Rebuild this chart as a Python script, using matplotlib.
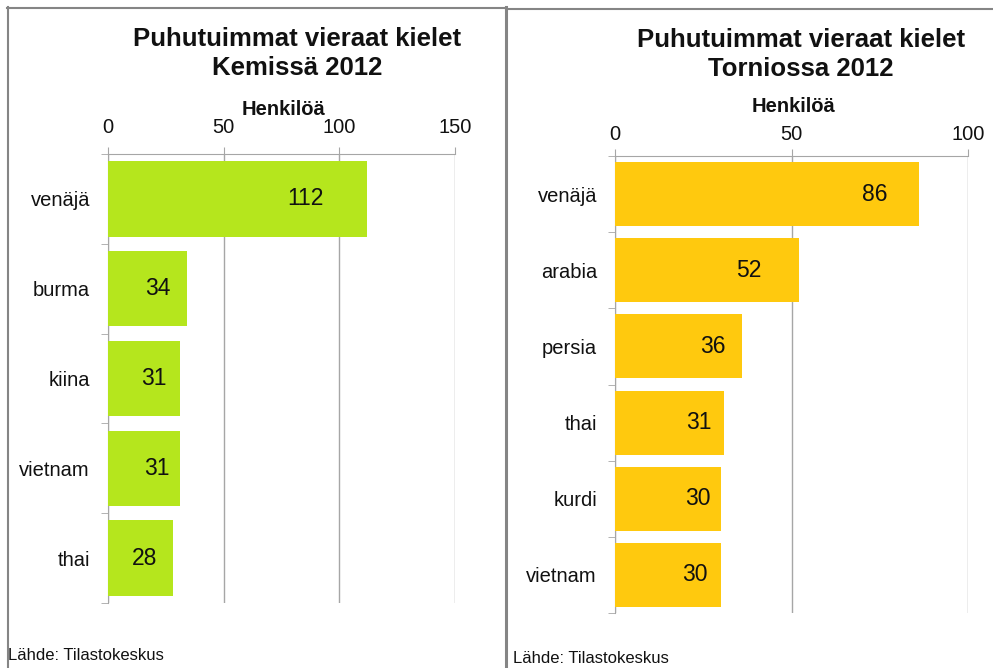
import matplotlib.pyplot as plt
from matplotlib.lines import Line2D

# data
kemi_languages = ['venäjä', 'burma', 'kiina', 'vietnam', 'thai']
kemi_counts = [112, 34, 31, 31, 28]
tornio_languages = ['venäjä', 'arabia', 'persia', 'thai', 'kurdi', 'vietnam']
tornio_counts = [86, 52, 36, 31, 30, 30]

kemi_ticks = [0, 50, 100, 150]
tornio_ticks = [0, 50, 100]

W, H = 993, 668
FONT = 'Liberation Sans'
GRID = '#a6a6a6'
FRAME = '#858585'


def fx(px):
    return px / W


def fy(py):
    return 1 - py / H


def draw_panel(fig, box, langs, counts, ticks, color, title, label_y, tick_pad, label_shift, title_x, title_y):
    left, top, right, bottom = box
    ax = fig.add_axes([fx(left), fy(bottom), fx(right) - fx(left), fy(top) - fy(bottom)])
    pos = list(range(len(langs)))
    ax.barh(pos, counts, height=0.84, color=color, zorder=3)

    ax.set_xlim(ticks[0], ticks[-1])
    ax.set_ylim(len(langs) - 0.5, -0.5)

    ax.xaxis.tick_top()
    ax.set_xticks(ticks)
    ax.tick_params(axis='x', direction='out', length=5, color=GRID, pad=tick_pad,
                   labelsize=14.5, labelcolor='#111111')
    ax.grid(axis='x', color=GRID, linewidth=1, zorder=0)

    ax.set_yticks(pos)
    ax.set_yticklabels(langs)
    ax.set_yticks([p + 0.5 for p in pos] + [-0.5], minor=True)
    ax.tick_params(axis='y', which='major', length=0, pad=13, labelsize=14.5, labelcolor='#111111')
    ax.tick_params(axis='y', which='minor', direction='out', length=5, color=GRID)

    for side in ['right', 'bottom']:
        ax.spines[side].set_visible(False)
    ax.spines['top'].set_color(GRID)
    ax.spines['left'].set_color(GRID)

    for tl in ax.get_xticklabels() + ax.get_yticklabels():
        tl.set_fontfamily(FONT)

    for p, c, s in zip(pos, counts, label_shift):
        ax.annotate(str(c), xy=(c, p), xytext=(-s * 0.72, 0), textcoords='offset points',
                    ha='right', va='center', fontsize=16.5, family=FONT, color='#111111', zorder=4)

    ax.set_xlabel('Henkilöä', fontsize=14.5, fontweight='bold', family=FONT, color='#111111')
    ax.xaxis.set_label_coords(fx((left + right) / 2 + 2), fy(label_y), transform=fig.transFigure)
    ax.xaxis.label.set_verticalalignment('baseline')

    fig.text(fx(title_x), fy(title_y), title, ha='center', va='baseline', fontsize=18.5,
             fontweight='bold', family=FONT, color='#111111', linespacing=1.25)
    return ax


def plot_languages():
    fig = plt.figure(figsize=(W / 100, H / 100), dpi=100)

    draw_panel(fig, (108, 154, 455, 603), kemi_languages, kemi_counts, kemi_ticks, '#b5e61d',
               'Puhutuimmat vieraat kielet\nKemissä 2012', 115, 7, [43, 16, 13, 10, 16], 297, 75)
    draw_panel(fig, (615, 156, 968, 613), tornio_languages, tornio_counts, tornio_ticks, '#ffc90e',
               'Puhutuimmat vieraat kielet\nTorniossa 2012', 112, 3.5, [31, 37, 16, 13, 10, 13], 801, 76)

    fig.text(fx(8), fy(660), 'Lähde: Tilastokeskus', fontsize=12, family=FONT, color='#111111')
    fig.text(fx(513), fy(663), 'Lähde: Tilastokeskus', fontsize=12, family=FONT, color='#111111')

    # panel frames
    fig.add_artist(Line2D([fx(7.5), fx(7.5)], [fy(7), fy(H)], color=FRAME, lw=1.5))
    fig.add_artist(Line2D([fx(7), fx(506)], [fy(7.5), fy(7.5)], color=FRAME, lw=1.5))
    fig.add_artist(Line2D([fx(506.5), fx(506.5)], [fy(7), fy(H)], color=FRAME, lw=2.2))
    fig.add_artist(Line2D([fx(506), fx(W)], [fy(9), fy(9)], color=FRAME, lw=1.5))

    fig.savefig('out.png', dpi=100)


if __name__ == "__main__":
    plot_languages()
